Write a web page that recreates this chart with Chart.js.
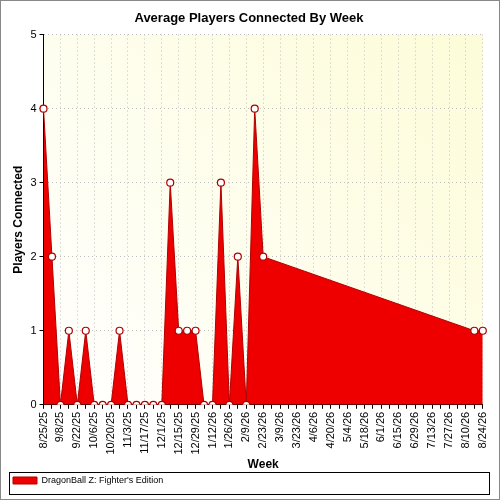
<!DOCTYPE html>
<html>
<head>
<script src="https://cdn.jsdelivr.net/npm/chart.js@4"></script>
<style>
  body { margin: 0; background: #fff; }
  #wrap { width: 498px; height: 498px; border: 1px solid #888; }
</style>
</head>
<body>
<div id="wrap"><canvas id="c" width="498" height="498"></canvas></div>
<script>
// weekly labels starting 8/25/25
const weeks = [];
for (let i = 0; i < 53; i++) {
    const d = new Date(2025, 7, 25 + i * 7);
    weeks.push((d.getMonth() + 1) + '/' + d.getDate() + '/' + String(d.getFullYear()).slice(2));
}
const players = [4, 2, 0, 1, 0, 1, 0, 0, 0, 1, 0, 0, 0, 0, 0, 3, 1, 1, 1, 0, 0, 3, 0, 2, 0, 4, 2,
    null, null, null, null, null, null, null, null, null, null, null, null, null, null, null, null,
    null, null, null, null, null, null, null, null, 1, 1];
const yTicks = [0, 1, 2, 3, 4, 5];

const bgPlugin = {
    id: 'bg',
    beforeDraw(chart) {
        const { ctx, chartArea: a } = chart;
        const g = ctx.createLinearGradient(a.left, a.bottom, a.right, a.top);
        g.addColorStop(0, '#ffffff');
        g.addColorStop(1, '#fdfcd8');
        ctx.save();
        ctx.fillStyle = g;
        ctx.fillRect(a.left, a.top, a.right - a.left, a.bottom - a.top);
        ctx.restore();
    },
    afterDraw(chart) {
        // box around the legend
        const l = chart.legend;
        const ctx = chart.ctx;
        ctx.save();
        ctx.strokeStyle = '#000';
        ctx.lineWidth = 1;
        ctx.strokeRect(Math.round(l.left) + 0.5, Math.round(l.top) + 0.5, Math.round(l.legendItems ? l.width : 0), Math.round(l.height) - 1);
        ctx.restore();
    }
};

new Chart(document.getElementById('c'), {
    type: 'line',
    data: {
        labels: weeks,
        datasets: [{
            label: "DragonBall Z: Fighter's Edition",
            data: players,
            spanGaps: true,
            fill: 'origin',
            backgroundColor: '#ee0000',
            borderColor: '#b00000',
            borderWidth: 1,
            tension: 0,
            pointRadius: 3.5,
            pointBackgroundColor: '#ffffff',
            pointBorderColor: '#b00000',
            pointBorderWidth: 1.2
        }]
    },
    options: {
        responsive: false,
        animation: false,
        layout: { padding: { left: 8, right: 10, top: 0, bottom: 4 } },
        plugins: {
            title: { display: true, text: 'Average Players Connected By Week', color: '#000',
                font: { family: 'Arial', size: 13, weight: 'bold' }, padding: { top: 10, bottom: 8 } },
            legend: {
                position: 'bottom', align: 'start',
                labels: { color: '#000', font: { family: 'Arial', size: 9 }, boxWidth: 24, boxHeight: 7, padding: 4 }
            },
            tooltip: { enabled: false }
        },
        scales: {
            x: {
                offset: false,
                grid: { color: ctx => ctx.index % 2 === 0 ? '#c0c0c0' : 'transparent', tickColor: '#000', tickLength: 4 },
                border: { color: '#000', dash: [1, 3] },
                ticks: {
                    autoSkip: false, maxRotation: 90, minRotation: 90, color: '#000',
                    font: { family: 'Arial', size: 11 },
                    callback: (v, i) => i % 2 === 0 ? weeks[i] : ''
                },
                title: { display: true, text: 'Week', color: '#000', font: { family: 'Arial', size: 12, weight: 'bold' }, padding: 0 }
            },
            y: {
                min: 0, max: 5,
                afterBuildTicks: s => { s.ticks = yTicks.map(v => ({ value: v })); },
                grid: { color: '#c0c0c0', tickColor: '#000', tickLength: 4 },
                border: { color: '#000', dash: [1, 3] },
                ticks: { color: '#000', font: { family: 'Arial', size: 11 } },
                title: { display: true, text: 'Players Connected', color: '#000', font: { family: 'Arial', size: 12, weight: 'bold' }, padding: 2 }
            }
        }
    },
    plugins: [bgPlugin]
});
</script>
</body>
</html>
